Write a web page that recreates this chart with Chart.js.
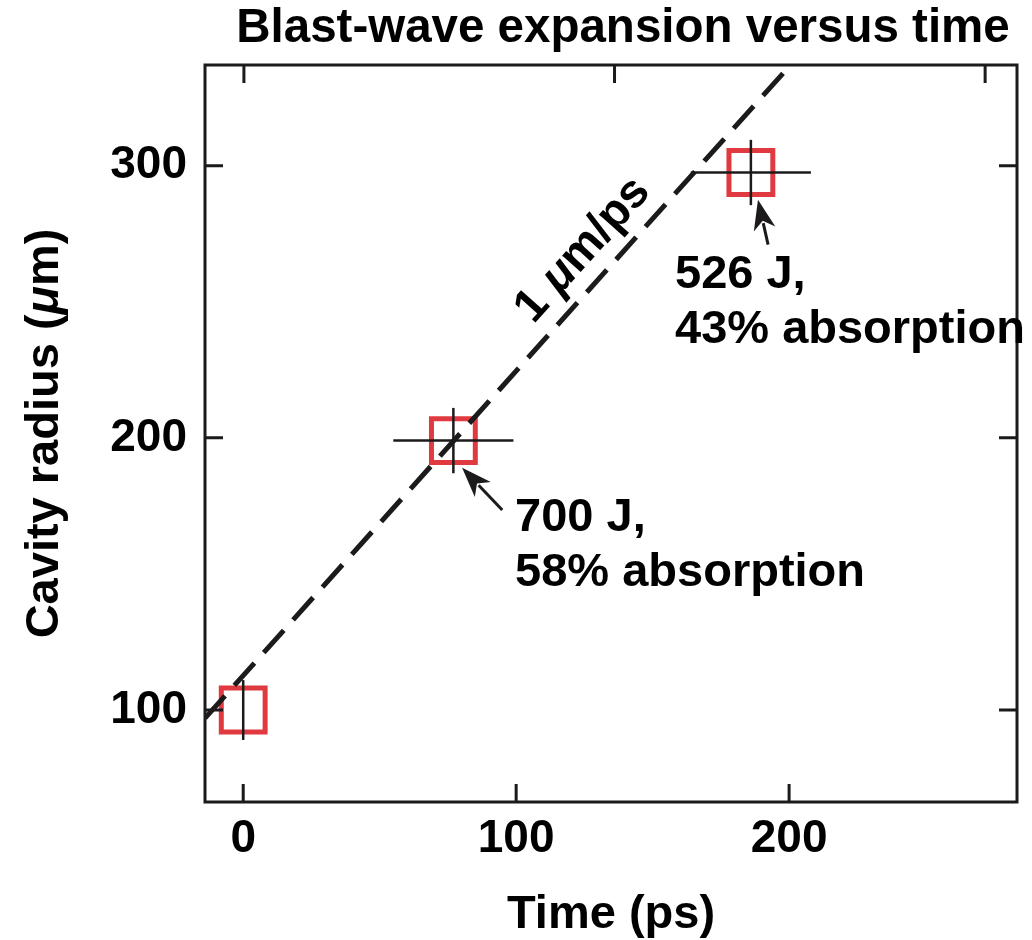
<!DOCTYPE html>
<html>
<head>
<meta charset="utf-8">
<script src="https://cdn.jsdelivr.net/npm/chart.js@4.4.0/dist/chart.umd.min.js"></script>
<style>
  html, body { margin: 0; padding: 0; background: #fff; }
</style>
</head>
<body>
<canvas id="blastChart" width="1032" height="940"></canvas>
<script>
// measured points (ps, um) and their error bars
const timePs = [0, 77, 186];
const radiusUm = [100, 199, 297.5];
const timeErr = [0, 22, 22];
const radiusErr = [11, 12, 12];

// dashed 1 um/ps guide line
const fitTime = [-14, 200.5];
const fitRadius = [97, 337];

// axis ticks
const xTicks = [0, 100, 200];
const yTicks = [100, 200, 300];
const topTicks = [0, 100, 200];

const FONT = '"Liberation Sans", Arial, Helvetica, sans-serif';
const INK = '#1c1a1b';
const RED = '#e03a40';

// draw a run of text pieces with different fonts
function drawRich(ctx, parts, x, y, align) {
  let total = 0;
  parts.forEach(p => { ctx.font = p.font; total += ctx.measureText(p.text).width; });
  let cx = align === 'center' ? x - total / 2 : (align === 'right' ? x - total : x);
  ctx.textAlign = 'left';
  parts.forEach(p => {
    ctx.font = p.font;
    ctx.fillText(p.text, cx, y);
    cx += ctx.measureText(p.text).width;
  });
}

function arrow(ctx, x1, y1, x2, y2) {
  const ang = Math.atan2(y2 - y1, x2 - x1);
  const head = 30, half = 11;
  const c = Math.cos(ang), s = Math.sin(ang);
  ctx.beginPath();
  ctx.moveTo(x1, y1);
  ctx.lineTo(x2 - c * head * 0.8, y2 - s * head * 0.8);
  ctx.stroke();
  ctx.beginPath();
  ctx.moveTo(x2, y2);
  ctx.lineTo(x2 - c * head + s * half, y2 - s * head - c * half);
  ctx.lineTo(x2 - c * head * 0.72, y2 - s * head * 0.72);
  ctx.lineTo(x2 - c * head - s * half, y2 - s * head + c * half);
  ctx.closePath();
  ctx.fill();
}

const decorPlugin = {
  id: 'decor',
  afterDatasetsDraw(chart) {
    const ctx = chart.ctx;
    const xs = chart.scales.x, ys = chart.scales.y;
    ctx.save();
    ctx.strokeStyle = INK;
    ctx.lineWidth = 2.5;
    timePs.forEach((t, i) => {
      const px = xs.getPixelForValue(t), py = ys.getPixelForValue(radiusUm[i]);
      if (timeErr[i] > 0) {
        ctx.beginPath();
        ctx.moveTo(xs.getPixelForValue(t - timeErr[i]), py);
        ctx.lineTo(xs.getPixelForValue(t + timeErr[i]), py);
        ctx.stroke();
      }
      if (radiusErr[i] > 0) {
        ctx.beginPath();
        ctx.moveTo(px, ys.getPixelForValue(radiusUm[i] - radiusErr[i]));
        ctx.lineTo(px, ys.getPixelForValue(radiusUm[i] + radiusErr[i]));
        ctx.stroke();
      }
    });
    ctx.restore();
  },
  afterDraw(chart) {
    const ctx = chart.ctx;
    const a = chart.chartArea;
    const xs = chart.scales.x, ys = chart.scales.y;
    const x2 = chart.scales.x2, y2 = chart.scales.y2;
    ctx.save();

    // frame and inward ticks
    ctx.strokeStyle = INK;
    ctx.lineWidth = 3;
    ctx.strokeRect(a.left, a.top, a.right - a.left, a.bottom - a.top);
    const tl = 18;
    ctx.beginPath();
    xTicks.forEach(v => { const p = xs.getPixelForValue(v); ctx.moveTo(p, a.bottom); ctx.lineTo(p, a.bottom - tl); });
    topTicks.forEach(v => { const p = x2.getPixelForValue(v); ctx.moveTo(p, a.top); ctx.lineTo(p, a.top + tl); });
    yTicks.forEach(v => { const p = ys.getPixelForValue(v); ctx.moveTo(a.left, p); ctx.lineTo(a.left + tl, p); });
    yTicks.forEach(v => { const p = y2.getPixelForValue(v); ctx.moveTo(a.right, p); ctx.lineTo(a.right - tl, p); });
    ctx.stroke();

    ctx.fillStyle = '#000';
    ctx.textBaseline = 'alphabetic';

    // title
    ctx.font = 'bold 47.5px ' + FONT;
    ctx.textAlign = 'center';
    ctx.fillText('Blast-wave expansion versus time', 623, 42);

    // axis titles
    const bold = 'bold 47px ' + FONT;
    const boldIt = 'italic bold 47px ' + FONT;
    drawRich(ctx, [{ text: 'Time (ps)', font: bold }], (a.left + a.right) / 2, 928, 'center');
    ctx.save();
    ctx.translate(58, (a.top + a.bottom) / 2);
    ctx.rotate(-Math.PI / 2);
    drawRich(ctx, [{ text: 'Cavity radius (', font: bold }, { text: '\u03BC', font: boldIt }, { text: 'm)', font: bold }], 0, 0, 'center');
    ctx.restore();

    // slope label along the dashed line
    const lx1 = xs.getPixelForValue(fitTime[0]), ly1 = ys.getPixelForValue(fitRadius[0]);
    const lx2 = xs.getPixelForValue(fitTime[1]), ly2 = ys.getPixelForValue(fitRadius[1]);
    const ang = Math.atan2(ly2 - ly1, lx2 - lx1);
    const f47 = 'bold 47px ' + FONT, f47i = 'italic bold 47px ' + FONT;
    ctx.save();
    ctx.translate(xs.getPixelForValue(124.5), ys.getPixelForValue(269));
    ctx.rotate(ang);
    ctx.textBaseline = 'middle';
    drawRich(ctx, [{ text: '1 ', font: f47 }, { text: '\u03BC', font: f47i }, { text: 'm/ps', font: f47 }], 0, 0, 'center');
    ctx.restore();

    // annotations with arrows
    ctx.lineWidth = 3;
    ctx.strokeStyle = INK;
    ctx.fillStyle = INK;
    arrow(ctx, xs.getPixelForValue(94.9), ys.getPixelForValue(173.5), xs.getPixelForValue(80.2), ys.getPixelForValue(189));
    arrow(ctx, xs.getPixelForValue(192.3), ys.getPixelForValue(271), xs.getPixelForValue(188.6), ys.getPixelForValue(287.5));
    ctx.fillStyle = '#000';
    ctx.font = f47;
    ctx.textAlign = 'left';
    ctx.textBaseline = 'alphabetic';
    let bx = xs.getPixelForValue(99.6), by = ys.getPixelForValue(165.8);
    ctx.fillText('700 J,', bx, by);
    ctx.fillText('58% absorption', bx, by + 55);
    bx = xs.getPixelForValue(158.2); by = ys.getPixelForValue(255.1);
    ctx.fillText('526 J,', bx, by);
    ctx.fillText('43% absorption', bx, by + 55);

    ctx.restore();
  }
};

const tickFont = { family: FONT, size: 46, weight: 'bold' };
const hiddenAxis = {
  ticks: { display: false },
  grid: { display: false, drawTicks: false },
  border: { display: false }
};

// fixed box sizes so the plot area lands where the reference has it
function boxSize(w, h) {
  return s => {
    if (w !== null) s.width = w;
    if (h !== null) s.height = h;
    s.paddingLeft = 0; s.paddingRight = 0; s.paddingTop = 0; s.paddingBottom = 0;
  };
}

new Chart(document.getElementById('blastChart'), {
  type: 'scatter',
  data: {
    datasets: [
      {
        type: 'line',
        data: fitTime.map((t, i) => ({ x: t, y: fitRadius[i] })),
        borderColor: INK,
        borderWidth: 5,
        borderDash: [30, 14],
        pointRadius: 0,
        fill: false
      },
      {
        data: timePs.map((t, i) => ({ x: t, y: radiusUm[i] })),
        pointStyle: 'rect',
        pointRadius: 31,
        pointHoverRadius: 31,
        borderWidth: 5,
        pointBorderWidth: 5,
        borderColor: RED,
        pointBorderColor: RED,
        backgroundColor: 'rgba(0,0,0,0)',
        pointBackgroundColor: 'rgba(0,0,0,0)'
      }
    ]
  },
  options: {
    responsive: false,
    animation: false,
    devicePixelRatio: 1,
    layout: { padding: 0, autoPadding: false },
    plugins: { legend: { display: false }, tooltip: { enabled: false } },
    scales: {
      x: {
        type: 'linear', position: 'bottom', min: -14, max: 283.5,
        afterBuildTicks: s => { s.ticks = xTicks.map(v => ({ value: v })); },
        afterFit: boxSize(null, 138),
        grid: { display: false, drawTicks: false },
        border: { display: false },
        ticks: { color: '#000', font: tickFont, padding: 10 }
      },
      x2: Object.assign({
        type: 'linear', position: 'top', min: -10.5, max: 208.6,
        afterBuildTicks: s => { s.ticks = topTicks.map(v => ({ value: v })); },
        afterFit: boxSize(null, 65)
      }, hiddenAxis),
      y: {
        type: 'linear', position: 'left', min: 66.2, max: 337,
        afterBuildTicks: s => { s.ticks = yTicks.map(v => ({ value: v })); },
        afterFit: boxSize(205, null),
        grid: { display: false, drawTicks: false },
        border: { display: false },
        ticks: { color: '#000', font: tickFont, padding: 18 }
      },
      y2: Object.assign({
        type: 'linear', position: 'right', min: 66.2, max: 337,
        afterBuildTicks: s => { s.ticks = yTicks.map(v => ({ value: v })); },
        afterFit: boxSize(15, null)
      }, hiddenAxis)
    }
  },
  plugins: [decorPlugin]
});
</script>
</body>
</html>
